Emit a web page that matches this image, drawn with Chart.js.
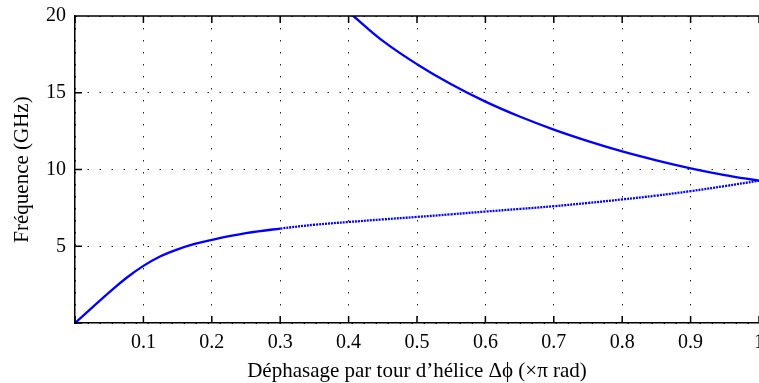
<!DOCTYPE html>
<html>
<head>
<meta charset="utf-8">
<script src="https://cdn.jsdelivr.net/npm/chart.js@4"></script>
<style>
  html, body { margin: 0; padding: 0; background: #fff; overflow: hidden; }
  #wrap { width: 759px; height: 383px; }
</style>
</head>
<body>
<div id="wrap"><canvas id="chart"></canvas></div>
<script>
// lower branch (mode fondamental)
const lowerPhase = [0, 0.025, 0.05, 0.075, 0.1, 0.125, 0.15, 0.175, 0.2, 0.25, 0.3, 0.35, 0.4, 0.45, 0.5, 0.55, 0.6, 0.65, 0.7, 0.75, 0.8, 0.85, 0.9, 0.95, 1.0];
const lowerFreq = [0, 1.0, 1.99, 2.93, 3.72, 4.35, 4.8, 5.15, 5.42, 5.85, 6.15, 6.4, 6.58, 6.75, 6.91, 7.08, 7.26, 7.43, 7.61, 7.82, 8.05, 8.3, 8.59, 8.92, 9.27];
// upper branch
const upperPhase = [0.407, 0.45, 0.5, 0.55, 0.6, 0.65, 0.7, 0.75, 0.8, 0.85, 0.9, 0.95, 1.0];
const upperFreq = [20, 18.38, 16.86, 15.55, 14.42, 13.45, 12.6, 11.85, 11.18, 10.6, 10.08, 9.64, 9.27];

const xTicks = [0, 0.1, 0.2, 0.3, 0.4, 0.5, 0.6, 0.7, 0.8, 0.9, 1];
const yTicks = [0, 5, 10, 15, 20];

const serif = "'Liberation Serif', 'DejaVu Serif', serif";
const tickFont = { family: serif, size: 20 };
const titleFont = { family: serif, size: 21 };

const toPoints = (xs, ys) => xs.map((x, i) => ({ x: x, y: ys[i] }));

// inward tick marks + top frame, like the matlab box
const frame = {
  id: "frame",
  afterDraw(chart) {
    const { ctx, chartArea: a, scales } = chart;
    ctx.save();
    ctx.strokeStyle = "#000";
    ctx.lineWidth = 1.5;
    ctx.beginPath();
    ctx.moveTo(a.left, a.top);
    ctx.lineTo(a.right, a.top);
    xTicks.forEach(v => {
      const px = scales.x.getPixelForValue(v);
      ctx.moveTo(px, a.bottom);
      ctx.lineTo(px, a.bottom - 7);
      ctx.moveTo(px, a.top);
      ctx.lineTo(px, a.top + 7);
    });
    yTicks.forEach(v => {
      const py = scales.y.getPixelForValue(v);
      ctx.moveTo(a.left, py);
      ctx.lineTo(a.left + 7, py);
    });
    ctx.stroke();
    ctx.restore();
  }
};

new Chart(document.getElementById("chart"), {
  type: "line",
  data: {
    datasets: [
      {
        data: toPoints(lowerPhase, lowerFreq),
        borderColor: "#0000ff",
        borderWidth: 2.3,
        pointRadius: 0,
        tension: 0.4,
        segment: {
          borderDash: c => (c.p0.parsed.x >= 0.3 ? [2, 1] : undefined)
        }
      },
      {
        data: toPoints(upperPhase, upperFreq),
        borderColor: "#0000ff",
        borderWidth: 2.3,
        pointRadius: 0,
        tension: 0.4
      }
    ]
  },
  options: {
    responsive: true,
    maintainAspectRatio: false,
    animation: false,
    layout: { padding: { left: 0, right: 0, top: 16, bottom: 0 } },
    plugins: {
      legend: { display: false },
      tooltip: { enabled: false }
    },
    scales: {
      x: {
        type: "linear",
        min: 0,
        max: 1,
        afterFit: s => { s.height = 60; s.paddingLeft = 0; s.paddingRight = 0; },
        afterBuildTicks: s => { s.ticks = xTicks.map(v => ({ value: v })); },
        ticks: {
          color: "#000",
          font: tickFont,
          padding: 8,
          maxRotation: 0,
          autoSkip: false,
          callback: v => (v === 0 ? "" : String(Math.round(v * 10) / 10))
        },
        grid: { color: "#222", lineWidth: 1, drawTicks: false },
        border: { display: true, color: "#000", width: 1.5, dash: [1.5, 10.5] },
        title: {
          display: true,
          text: "Déphasage par tour d’hélice Δϕ (×π rad)",
          color: "#000",
          font: titleFont,
          padding: { top: 0, bottom: -1 }
        }
      },
      y: {
        min: 0,
        max: 20,
        afterFit: s => { s.width = 75; s.paddingTop = 0; s.paddingBottom = 0; },
        afterBuildTicks: s => { s.ticks = yTicks.map(v => ({ value: v })); },
        ticks: {
          color: "#000",
          font: tickFont,
          padding: 9,
          callback: v => (v === 0 ? "" : String(v))
        },
        grid: { color: "#222", lineWidth: 1, drawTicks: false },
        border: { display: true, color: "#000", width: 1.5, dash: [1.5, 10.5] },
        title: {
          display: true,
          text: "Fréquence (GHz)",
          color: "#000",
          font: titleFont,
          padding: { top: 10, bottom: 0 }
        }
      }
    }
  },
  plugins: [frame]
});
</script>
</body>
</html>
